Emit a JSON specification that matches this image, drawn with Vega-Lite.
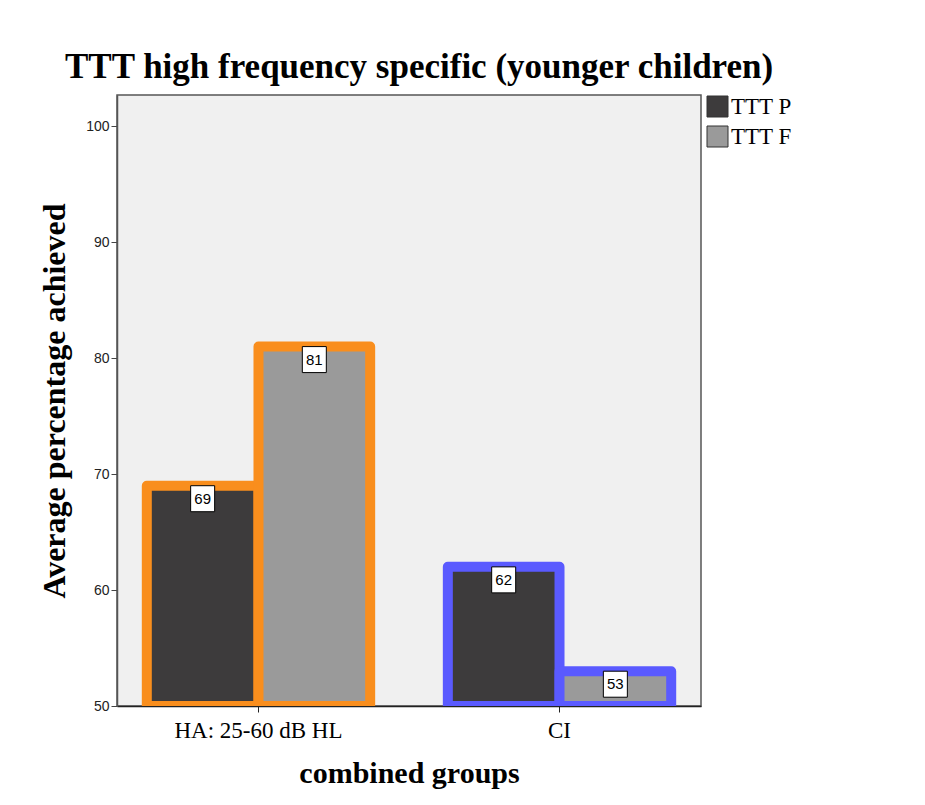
{
  "$schema": "https://vega.github.io/schema/vega-lite/v6.json",
  "width": 584,
  "height": 611,
  "autosize": {"type": "none"},
  "padding": {"left": 117, "top": 95, "right": 224, "bottom": 99},
  "background": "white",
  "title": {
    "text": "TTT high frequency specific (younger children)",
    "anchor": "start",
    "frame": "group",
    "dx": -52,
    "offset": 10,
    "font": "Liberation Serif",
    "fontSize": 35,
    "fontWeight": "bold",
    "color": "black"
  },
  "config": {
    "view": {"fill": "#F0F0F0", "stroke": "#555555", "strokeWidth": 1.5}
  },
  "data": {
    "values": [
      {"group": "HA: 25-60 dB HL", "series": "TTT P", "value": 69},
      {"group": "HA: 25-60 dB HL", "series": "TTT F", "value": 81},
      {"group": "CI", "series": "TTT P", "value": 62},
      {"group": "CI", "series": "TTT F", "value": 53}
    ]
  },
  "encoding": {
    "x": {
      "field": "group",
      "type": "nominal",
      "sort": ["HA: 25-60 dB HL", "CI"],
      "scale": {"paddingInner": 0.258, "paddingOuter": 0.099},
      "axis": {
        "title": "combined groups",
        "titleFont": "Liberation Serif",
        "titleFontSize": 30,
        "titleFontWeight": "bold",
        "titleColor": "black",
        "titlePadding": 16,
        "labelFont": "Liberation Serif",
        "labelFontSize": 23,
        "labelColor": "black",
        "labelAngle": 0,
        "labelPadding": 7,
        "tickSize": 6,
        "tickColor": "#222222",
        "domainColor": "#222222",
        "domainWidth": 1.5
      }
    },
    "xOffset": {
      "field": "series",
      "sort": ["TTT P", "TTT F"],
      "scale": {"paddingInner": 0, "paddingOuter": 0}
    },
    "y": {
      "field": "value",
      "type": "quantitative",
      "scale": {"domain": [50, 102.7], "nice": false, "zero": false},
      "axis": {
        "title": "Average percentage achieved",
        "titleFont": "Liberation Serif",
        "titleFontSize": 32,
        "titleFontWeight": "bold",
        "titleColor": "black",
        "titlePadding": 14,
        "values": [50, 60, 70, 80, 90, 100],
        "labelFont": "Liberation Sans",
        "labelFontSize": 14,
        "labelColor": "#222222",
        "tickSize": 6,
        "tickColor": "#444444",
        "domainColor": "#555555",
        "domainWidth": 1.5,
        "grid": false
      }
    }
  },
  "layer": [
    {
      "mark": {"type": "bar", "strokeWidth": 10, "strokeJoin": "round", "clip": true},
      "encoding": {
        "y2": {"datum": 50},
        "stroke": {
          "field": "group",
          "type": "nominal",
          "scale": {"domain": ["HA: 25-60 dB HL", "CI"], "range": ["#F98E1D", "#5A5AFF"]},
          "legend": null
        },
        "fill": {
          "field": "series",
          "type": "nominal",
          "scale": {"domain": ["TTT P", "TTT F"], "range": ["#3D3B3C", "#9A9A9A"]},
          "legend": {
            "title": null,
            "orient": "right",
            "offset": 5,
            "padding": 0,
            "labelFont": "Liberation Serif",
            "labelFontSize": 23,
            "labelColor": "black",
            "labelOffset": 2,
            "symbolType": "square",
            "symbolSize": 441,
            "symbolStrokeColor": "#333333",
            "symbolStrokeWidth": 1,
            "rowPadding": 5
          }
        }
      }
    },
    {
      "mark": {
        "type": "point",
        "shape": "M-0.923,-1H0.923V1H-0.923Z",
        "size": 676,
        "filled": true,
        "fill": "white",
        "stroke": "black",
        "strokeWidth": 1,
        "opacity": 1,
        "yOffset": 13
      }
    },
    {
      "mark": {
        "type": "text",
        "font": "Liberation Sans",
        "fontSize": 15,
        "color": "black",
        "baseline": "middle",
        "yOffset": 13
      },
      "encoding": {"text": {"field": "value", "type": "quantitative"}}
    }
  ]
}
